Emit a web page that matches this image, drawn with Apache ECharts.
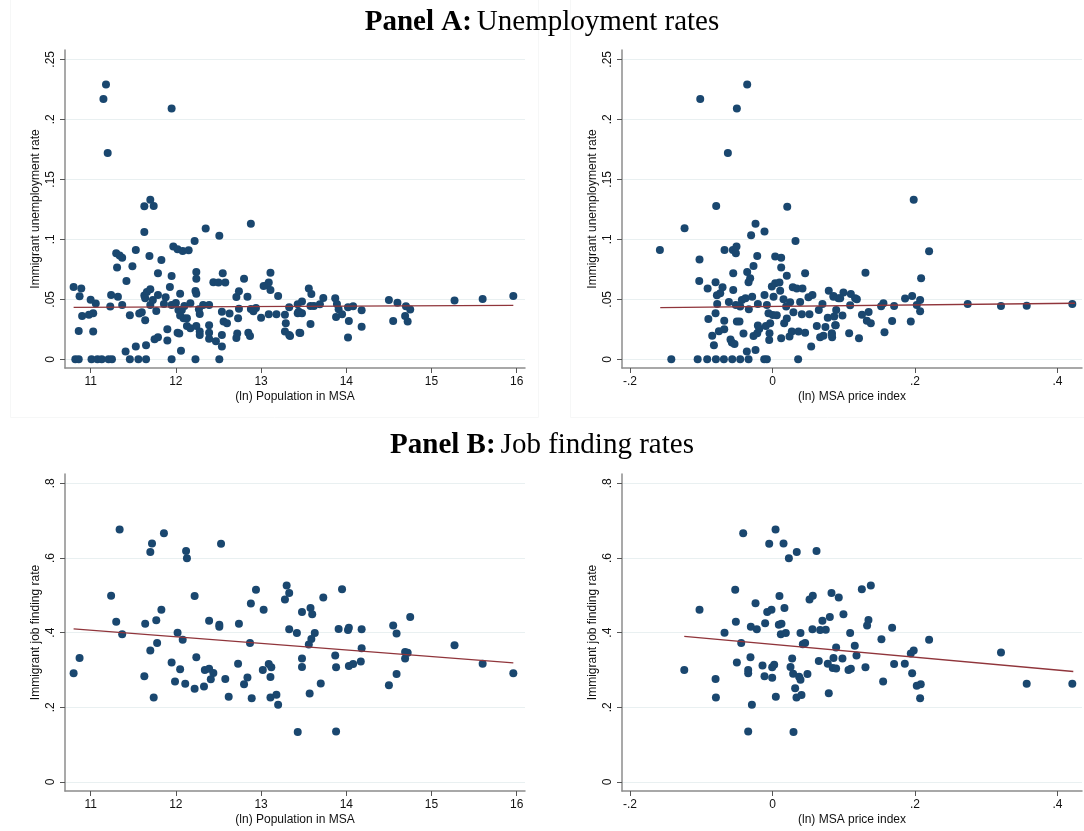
<!DOCTYPE html>
<html>
<head>
<meta charset="utf-8">
<script src="https://cdn.jsdelivr.net/npm/echarts@6/dist/echarts.min.js"></script>
<style>
html,body{margin:0;padding:0;background:#fff;}
#chart{width:1084px;height:831px;}
</style>
</head>
<body>
<div id="chart"></div>
<script>
// ---------- tick values and labels ----------
const popTicks = [11, 12, 13, 14, 15, 16];
const popTickLabels = ['11', '12', '13', '14', '15', '16'];
const priceTicks = [-0.2, 0, 0.2, 0.4];
const priceTickLabels = ['-.2', '0', '.2', '.4'];
const unempTicks = [0, 0.05, 0.1, 0.15, 0.2, 0.25];
const unempTickLabels = ['0', '.05', '.1', '.15', '.2', '.25'];
const jobTicks = [0, 0.2, 0.4, 0.6, 0.8];
const jobTickLabels = ['0', '.2', '.4', '.6', '.8'];

// ---------- Panel A, left: (ln) population vs unemployment ----------
const unempByPop = [
[11.18,.229],[11.15,.217],[11.95,.209],[11.20,.172],[11.70,.133],[11.63,.1275],[11.74,.1278],[12.88,.113],[12.35,.109],[11.63,.106],
[12.51,.103],[12.22,.0986],[11.97,.0939],[12.02,.0917],[12.08,.0903],[12.15,.0908],[11.53,.0911],[11.30,.0883],[11.34,.0864],[11.37,.0847],
[11.69,.0861],[11.83,.0828],[11.31,.0764],[11.49,.0775],[11.79,.0717],[12.24,.0728],[12.24,.0672],[12.55,.0717],[13.11,.0722],[11.95,.0694],
[11.42,.0653],[12.80,.0672],[12.44,.0642],[12.50,.0639],[12.58,.0639],[13.07,.0617],[13.09,.0639],[13.11,.0578],[10.80,.0603],[10.89,.0589],
[10.87,.0525],[11.00,.0497],[11.06,.0464],[11.24,.0536],[11.32,.0522],[11.23,.0439],[11.37,.0453],[11.63,.0531],[11.66,.0561],[11.70,.0583],
[11.64,.0508],[11.70,.0453],[11.73,.0494],[11.79,.0536],[11.77,.0403],[11.88,.0517],[11.93,.0603],[11.86,.0461],[11.95,.0453],[12.00,.0469],
[12.05,.0547],[12.03,.0411],[12.05,.0364],[12.09,.0342],[12.13,.0342],[12.13,.0278],[12.07,.0411],[12.10,.0444],[12.17,.0467],[12.23,.0569],
[12.24,.0547],[12.27,.0417],[12.28,.0378],[12.32,.0453],[12.39,.0453],[12.17,.0258],[12.24,.0278],[12.28,.0231],[12.28,.0203],[12.39,.0283],
[12.39,.0222],[12.39,.0172],[12.47,.0150],[12.54,.0397],[12.56,.0314],[12.60,.0300],[12.63,.0381],[12.54,.0203],[12.54,.0106],[12.51,0],
[12.71,.0519],[12.74,.0567],[12.84,.0522],[12.74,.0422],[12.73,.0342],[12.72,.0214],[12.71,.0178],[12.85,.0222],[12.87,.0194],[12.88,.0419],
[12.94,.0428],[12.91,.0400],[13.00,.0347],[13.03,.0611],[13.09,.0375],[13.20,.0528],[13.18,.0375],[13.28,.0372],[13.33,.0433],[13.29,.0300],
[13.28,.0231],[13.33,.0203],[13.43,.0458],[13.43,.0383],[13.45,.0222],[11.03,.0383],[10.98,.0372],[10.90,.0361],[10.86,.0236],[11.03,.0231],
[11.41,.0064],[11.46,0],[11.53,.0106],[11.56,0],[11.65,.0117],[11.65,0],[11.46,.0367],[11.57,.0381],[11.60,.0392],[11.64,.0325],
[11.75,.0167],[11.79,.0183],[11.90,.0250],[11.90,.0156],[12.02,.0222],[12.04,.0214],[12.06,.0072],[11.95,0],[12.23,0],[10.82,0],
[10.86,0],[11.01,0],[11.08,0],[11.13,0],[11.21,0],[11.25,0],[13.45,.0392],
[13.48,.0481],[13.44,.0397],[13.48,.0383],[13.56,.0589],[13.59,.0544],[13.58,.0444],[13.62,.0444],[13.69,.0458],[13.73,.0511],[13.58,.0294],
[13.46,.0219],[13.34,.0194],[13.87,.0508],[13.89,.0461],[13.91,.0417],[13.88,.0353],[13.95,.0375],[14.02,.0433],[14.08,.0442],[14.18,.0408],
[14.03,.0319],[14.18,.0272],[14.02,.0181],[14.50,.0494],[14.60,.0472],[14.70,.0442],[14.75,.0414],[14.69,.0361],[14.55,.0319],[14.72,.0314],
[15.27,.0489],[15.60,.0503],[15.96,.0528]
];
const unempByPopFit = [[10.80, 0.0433], [15.96, 0.0450]];

// ---------- Panel A, right: (ln) price index vs unemployment ----------
const unempByPrice = [
[-0.0355,.229],[-0.1014,.217],[-0.050,.209],[-0.0626,.172],[-0.079,.1278],[0.0207,.1272],[-0.1234,.1092],[-0.0238,.113],[-0.0112,.1064],[-0.030,.1033],
[-0.158,.0911],[0.0323,.0986],[-0.0673,.0911],[-0.0556,.0911],[-0.0505,.0939],[-0.0514,.0883],[-0.1024,.0831],[-0.0214,.0861],[0.0038,.0856],[0.0122,.0847],
[-0.0266,.0778],[0.0122,.0764],[-0.0551,.0717],[-0.0355,.0728],[-0.0313,.0675],[-0.0336,.0642],[0.0201,.0697],[0.0458,.0717],[-0.1028,.0653],[-0.0799,.0642],
[-0.091,.0589],[-0.0701,.06],[-0.078,.0533],[-0.0733,.055],[-0.0551,.0578],[-0.0776,.0461],[-0.0612,.0478],[-0.0514,.0453],[-0.043,.0494],[-0.0379,.0508],
[-0.0285,.0522],[-0.0453,.0439],[-0.0332,.0417],[-0.0205,.0461],[-0.0112,.0536],[-0.0009,.0606],[0.0038,.0633],[0.0098,.0639],[0.0015,.0522],[-0.0079,.0453],
[-0.0056,.0383],[0.0005,.0369],[0.006,.0367],[0.0108,.0572],[0.0155,.05],[0.0192,.0439],[0.0248,.0475],[0.0294,.0392],[0.0285,.06],[0.0341,.0589],
[0.0421,.0589],[0.0388,.0478],[0.0412,.0375],[0.0505,.0517],[0.0561,.0536],[0.0519,.0375],[0.0701,.0461],[0.0790,.0572],[0.0856,.0522],[0.0926,.0508],
[0.0650,.0411],[0.0776,.0347],[0.0888,.0283],[0.0622,.0278],[0.0743,.0269],[0.0669,.0183],[0.0715,.0197],[0.0832,.0211],[0.0837,.0183],[0.0543,.0106],
[-0.090,.0336],[-0.0846,.0197],[-0.0822,.0117],[-0.0752,.0233],[-0.0677,.025],[-0.0677,.0322],[-0.0799,.0383],[-0.0589,.0164],[-0.057,.0139],[-0.0533,.0128],
[-0.05,.0314],[-0.0463,.0314],[-0.0407,.0214],[-0.036,.0064],[-0.0238,.0078],[-0.0266,.0194],[-0.0214,.0217],[-0.0186,.0253],[-0.0205,.0281],[-0.0093,.0278],
[-0.0042,.0217],[-0.0032,.03],[-0.0046,.0161],[0.0122,.0175],[0.0164,.03],[0.0201,.0339],[0.0239,.0189],[0.0271,.0231],[0.0365,.0231],[0.0458,.0222],
[-0.142,0],[-0.105,0],[-0.0916,0],[-0.0794,0],[-0.0682,0],[-0.0565,0],[-0.0453,0],[-0.0336,0],[-0.0116,0],[-0.0079,0],[0.0360,0],
[0.1982,.133],[0.2198,.09],[0.1305,.0722],[0.2086,.0675],[0.0996,.0556],[0.11,.0544],[0.0856,.0528],[0.095,.0508],[0.116,.0508],[0.1184,.05],
[0.109,.045],[0.0894,.0411],[0.0866,.0356],[0.0982,.0364],[0.088,.0283],[0.0833,.0217],[0.1076,.0217],[0.1214,.0175],[0.1256,.0372],[0.1349,.0394],
[0.1324,.0322],[0.138,.03],[0.1557,.0467],[0.1525,.0442],[0.1707,.0444],[0.1679,.0319],[0.1572,.0225],[0.1861,.0506],[0.196,.0528],[0.2072,.0494],
[0.2025,.0453],[0.2072,.04],[0.1941,.0314],[0.274,.0461],[0.3207,.0444],[0.3568,.0447],[0.4208,.0461]
];
const unempByPriceFit = [[-0.1575, 0.0431], [0.4246, 0.0467]];

// ---------- Panel B, left: (ln) population vs job finding ----------
const jobByPop = [
[11.34,.676],[11.86,.666],[11.72,.639],[11.70,.616],[12.12,.619],[12.13,.599],[12.53,.638],[11.24,.499],[12.22,.498],[12.94,.515],
[12.88,.478],[13.03,.461],[13.30,.526],[13.33,.506],[13.28,.489],[11.30,.429],[11.37,.396],[11.64,.424],[11.77,.433],[11.83,.461],
[11.70,.352],[11.78,.372],[12.02,.400],[12.08,.381],[12.39,.432],[12.51,.421],[12.51,.416],[12.74,.424],[12.87,.372],[13.33,.409],
[13.42,.399],[10.80,.291],[10.87,.332],[11.63,.283],[11.74,.226],[11.95,.320],[12.05,.302],[11.99,.269],[12.11,.263],[12.22,.250],
[12.24,.334],[12.33,.256],[12.34,.300],[12.39,.303],[12.44,.292],[12.41,.275],[12.58,.276],[12.62,.228],[12.73,.317],[12.84,.280],
[12.80,.262],[12.89,.224],[13.02,.300],[13.09,.316],[13.12,.307],[13.11,.281],[13.11,.226],[13.18,.234],[13.20,.207],[13.43,.134],
[13.48,.455],[13.58,.466],[13.60,.449],[13.73,.494],[13.95,.516],[13.63,.399],[13.59,.383],[13.56,.368],[13.48,.331],[13.48,.308],
[13.70,.264],[13.57,.237],[13.88,.135],[13.91,.410],[14.02,.407],[14.03,.413],[14.18,.409],[14.18,.358],[13.87,.339],[13.88,.307],
[14.03,.311],[14.08,.316],[14.17,.323],[14.55,.419],[14.59,.398],[14.75,.442],[14.69,.348],[14.72,.346],[14.69,.331],[14.59,.289],
[14.50,.259],[15.27,.366],[15.60,.317],[15.96,.291]
];
const jobByPopFit = [[10.80, 0.410], [15.96, 0.319]];

// ---------- Panel B, right: (ln) price index vs job finding ----------
const jobByPrice = [
[-0.0411,.666],[0.0043,.676],[-0.0046,.638],[0.0155,.639],[0.023,.599],[0.0341,.616],[0.0618,.619],[-0.0523,.515],[-0.1024,.461],[-0.0238,.479],
[0.0098,.498],[-0.0074,.455],[-0.0014,.461],[0.0168,.466],[0.052,.489],[0.0566,.499],[0.0828,.506],[0.093,.494],[-0.0514,.429],[-0.0304,.416],
[-0.0220,.409],[-0.0103,.425],[0.0089,.421],[0.0126,.424],[-0.0673,.400],[0.0117,.396],[0.0187,.399],[0.0393,.399],[0.0561,.409],[0.0669,.407],
[0.0748,.408],[0.0701,.432],[0.0805,.442],[-0.0439,.372],[0.0426,.369],[0.0458,.372],[0.0893,.360],[-0.1238,.300],[-0.0799,.276],[-0.0794,.226],
[-0.05,.320],[-0.0309,.334],[-0.0341,.300],[-0.0341,.291],[-0.014,.312],[-0.0112,.283],[-0.0004,.307],[0.0024,.314],[-0.0004,.279],[-0.0289,.207],
[-0.0341,.135],[0.0295,.134],[0.0047,.228],[0.0276,.331],[0.0253,.308],[0.0290,.290],[0.0374,.282],[0.0393,.274],[0.0318,.251],[0.0337,.226],
[0.0407,.233],[0.0491,.289],[0.065,.324],[0.0776,.317],[0.0856,.332],[0.0846,.305],[0.0893,.304],[0.0790,.238],
[0.1254,.516],[0.138,.526],[0.0996,.449],[0.1347,.434],[0.1328,.419],[0.1679,.413],[0.109,.399],[0.1529,.382],[0.2198,.381],[0.1155,.365],
[0.1179,.339],[0.0982,.331],[0.1067,.300],[0.11,.303],[0.1305,.307],[0.1707,.316],[0.1857,.317],[0.196,.291],[0.1941,.344],[0.1982,.352],
[0.1553,.269],[0.2025,.258],[0.2081,.262],[0.2072,.224],[0.3207,.347],[0.3568,.263],[0.4208,.263]
];
const jobByPriceFit = [[-0.1238, 0.390], [0.4222, 0.296]];

// ---------- styling ----------
const DOT = '#1a476f';
const FIT = '#90353b';
const AXIS = '#8c8c8c';
const TXT = '#111111';
const FONT = 'Liberation Sans';

const grids = [
  {left: 65, top: 50, width: 460, height: 318},
  {left: 622, top: 50, width: 460, height: 318},
  {left: 65, top: 474, width: 460, height: 317},
  {left: 622, top: 474, width: 460, height: 317}
];

function labelMap(vals, labs) {
  return function (v) {
    for (let i = 0; i < vals.length; i++) {
      if (Math.abs(vals[i] - v) < 1e-9) return labs[i];
    }
    return '';
  };
}

function xAx(idx, min, max, ticks, labs, name) {
  return {
    type: 'value', gridIndex: idx, min: min, max: max,
    name: name, nameLocation: 'middle', nameGap: 23,
    nameTextStyle: {color: TXT, fontFamily: FONT, fontSize: 12},
    axisLine: {show: true, onZero: false, lineStyle: {color: AXIS, width: 1.5}},
    axisTick: {show: true, length: 5, customValues: ticks, lineStyle: {color: '#555', width: 1}},
    axisLabel: {show: true, customValues: ticks, formatter: labelMap(ticks, labs), margin: 8,
                color: TXT, fontFamily: FONT, fontSize: 12},
    splitLine: {show: false}
  };
}
function yAx(idx, min, max, ticks, labs, name) {
  return {
    type: 'value', gridIndex: idx, min: min, max: max,
    name: name, nameLocation: 'middle', nameGap: 23, nameRotate: 90,
    nameTextStyle: {color: TXT, fontFamily: FONT, fontSize: 12},
    axisLine: {show: true, onZero: false, lineStyle: {color: AXIS, width: 1.5}},
    axisTick: {show: true, length: 5, customValues: ticks, lineStyle: {color: '#555', width: 1}},
    axisLabel: {show: true, customValues: ticks, formatter: labelMap(ticks, labs), rotate: 90, margin: 8,
                color: TXT, fontFamily: FONT, fontSize: 12},
    splitLine: {show: true, lineStyle: {color: '#e9f0f1', width: 1.2}}
  };
}

const popMin = 10.699, popMax = 16.097;
const priceMin = -0.2112, priceMax = 0.4344;
const unempMin = -0.00725, unempMax = 0.25775;
const jobMin = -0.0241, jobMax = 0.8249;

function scatter(idx, data) {
  return {type: 'scatter', xAxisIndex: idx, yAxisIndex: idx, data: data, symbol: 'circle', symbolSize: 8,
          itemStyle: {color: DOT, opacity: 1}, clip: false, silent: true, z: 2};
}
function fit(idx, data) {
  return {type: 'line', xAxisIndex: idx, yAxisIndex: idx, data: data, symbol: 'none', showSymbol: false,
          lineStyle: {color: FIT, width: 1.3}, silent: true, z: 3, animation: false};
}

const titleRich = {
  b: {fontFamily: 'Liberation Serif', fontWeight: 'bold', fontSize: 29, color: '#000'},
  n: {fontFamily: 'Liberation Serif', fontWeight: 'normal', fontSize: 29, color: '#000'}
};

const chart = echarts.init(document.getElementById('chart'), null, {renderer: 'canvas'});
chart.setOption({
  animation: false,
  backgroundColor: '#ffffff',
  graphic: [
    {type: 'rect', silent: true, z: -1, shape: {x: 10.5, y: -10, width: 528, height: 427.5},
     style: {fill: 'none', stroke: '#f6f7f7', lineWidth: 1}},
    {type: 'rect', silent: true, z: -1, shape: {x: 570.5, y: -10, width: 528, height: 427.5},
     style: {fill: 'none', stroke: '#f6f7f7', lineWidth: 1}}
  ],
  title: [
    {text: '{b|Panel A:} {n|Unemployment rates}', left: 'center', top: 3, textStyle: {rich: titleRich}},
    {text: '{b|Panel B:} {n|Job finding rates}', left: 'center', top: 426, textStyle: {rich: titleRich}}
  ],
  grid: grids,
  xAxis: [
    xAx(0, popMin, popMax, popTicks, popTickLabels, '(ln) Population in MSA'),
    xAx(1, priceMin, priceMax, priceTicks, priceTickLabels, '(ln) MSA price index'),
    xAx(2, popMin, popMax, popTicks, popTickLabels, '(ln) Population in MSA'),
    xAx(3, priceMin, priceMax, priceTicks, priceTickLabels, '(ln) MSA price index')
  ],
  yAxis: [
    yAx(0, unempMin, unempMax, unempTicks, unempTickLabels, 'Immigrant unemployment rate'),
    yAx(1, unempMin, unempMax, unempTicks, unempTickLabels, 'Immigrant unemployment rate'),
    yAx(2, jobMin, jobMax, jobTicks, jobTickLabels, 'Immigrant job finding rate'),
    yAx(3, jobMin, jobMax, jobTicks, jobTickLabels, 'Immigrant job finding rate')
  ],
  series: [
    scatter(0, unempByPop), fit(0, unempByPopFit),
    scatter(1, unempByPrice), fit(1, unempByPriceFit),
    scatter(2, jobByPop), fit(2, jobByPopFit),
    scatter(3, jobByPrice), fit(3, jobByPriceFit)
  ]
});
</script>
</body>
</html>
